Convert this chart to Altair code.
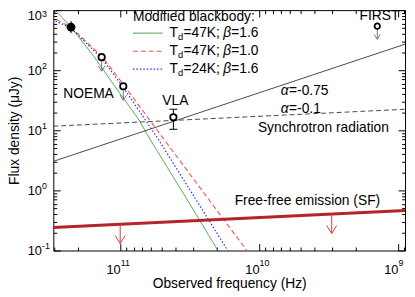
import altair as alt
import pandas as pd

# ---------------- values ----------------
# Modified blackbody models: observed frequency (Hz) and flux density (uJy)
green_nu = [3.24e11, 3.03e11, 2.26e11, 1.55e11, 1.12e11, 7.45e10, 6.03e10, 3.3e10, 1.92e10, 1.46e10]
green_f = [1259, 1080, 521, 171, 58.4, 15.8, 6.81, 0.708, 0.089, 0.0316]
red_nu = [3.24e11, 3.03e11, 2.26e11, 1.36e11, 9.5e10, 4.72e10, 1.18e10, 8.36e9]
red_f = [794, 736, 521, 171, 58.4, 6.55, 0.089, 0.0316]
blue_nu = [3.24e11, 3.03e11, 2.26e11, 1.36e11, 9.5e10, 5.2e10, 1.63e10, 1.24e10]
blue_f = [736, 681, 501, 158, 52.1, 6.55, 0.089, 0.0316]
models = ["T47b16", "T47b10", "T24b16"]
model_temp = ["=47K; ", "=47K; ", "=24K; "]
model_beta = ["=1.6", "=1.0", "=1.6"]

# power laws, given at the two ends of the frequency axis
pl_nu = [3.03e11, 8.9e8]
sync075_f = [3.04, 271]
sync010_f = [11.7, 22.4]
freefree_f = [0.242, 0.464]

# photometry
det_nu, det_f, det_lo, det_hi = [2.26e11], [521], [414], [656]
noema_nu, noema_f, noema_tip = [1.36e11, 9.5e10], [165, 54.1], [96.5, 31.6]
vla_nu, vla_f, vla_lo, vla_hi = [4.14e10], [16.5], [10.4], [22.4]
first_nu, first_f, first_tip = [1.41e9], [541], [328]
ffl_nu, ffl_f, ffl_tip = [1e11, 3e9], [0.27, 0.41], [0.131, 0.192]

# axes
x_major = [1e11, 1e10, 1e9]
x_minor = [9e8, 2e9, 3e9, 4e9, 5e9, 6e9, 7e9, 8e9, 9e9,
           2e10, 3e10, 4e10, 5e10, 6e10, 7e10, 8e10, 9e10, 2e11, 3e11]
y_major = [0.1, 1, 10, 100, 1000]
y_minor = [0.2, 0.3, 0.4, 0.5, 0.6, 0.7, 0.8, 0.9,
           2, 3, 4, 5, 6, 7, 8, 9,
           20, 30, 40, 50, 60, 70, 80, 90,
           200, 300, 400, 500, 600, 700, 800, 900]

# ---------------- chart ----------------
W, H = 357, 244
FONT = "Liberation Sans"
xsc = alt.Scale(type="log", domain=[8.9e8, 3.03e11], reverse=True)
ysc = alt.Scale(type="log", domain=[0.1, 1000])


def X(f="nu"):
    return alt.X(f"{f}:Q", scale=xsc, axis=None)


def Y(f="f"):
    return alt.Y(f"{f}:Q", scale=ysc, axis=None)


rows = []
for m, nus, fs in zip(models, [green_nu, red_nu, blue_nu], [green_f, red_f, blue_f]):
    for i, (n, v) in enumerate(zip(nus, fs)):
        rows.append({"model": m, "nu": n, "f": v, "i": i})
curves = pd.DataFrame(rows)

col_scale = alt.Scale(domain=models, range=["#3c9c3c", "#ff5050", "#2a2aff"])
dash_scale = alt.Scale(domain=models, range=[[1, 0], [5, 3], [1.5, 2]])
width_scale = alt.Scale(domain=models, range=[1, 1.2, 1.8])

curve_layer = alt.Chart(curves).mark_line(clip=True).encode(
    x=X(), y=Y(),
    color=alt.Color("model:N", scale=col_scale, legend=None),
    strokeDash=alt.StrokeDash("model:N", scale=dash_scale, legend=None),
    strokeWidth=alt.StrokeWidth("model:N", scale=width_scale, legend=None),
    order="i:O",
)

pl = pd.DataFrame({"nu": pl_nu, "s75": sync075_f, "s10": sync010_f, "ff": freefree_f})
sync75 = alt.Chart(pl).mark_line(clip=True, color="#333333", strokeWidth=0.9).encode(x=X(), y=Y("s75"))
sync10 = alt.Chart(pl).mark_line(clip=True, color="#333333", strokeWidth=0.9, strokeDash=[5, 3]).encode(x=X(), y=Y("s10"))
ffline = alt.Chart(pl).mark_line(clip=True, color="#b5242a", strokeWidth=3).encode(x=X(), y=Y("ff"))

ARROW = "M-1,-1.6L0,0L1,-1.6"

# free-free upper limits (red arrows)
ffl = pd.DataFrame({"nu": ffl_nu, "f": ffl_f, "tip": ffl_tip})
ffl_rule = alt.Chart(ffl).mark_rule(color="#d23a3a", strokeWidth=1).encode(x=X(), y=Y(), y2="tip:Q")
ffl_head = alt.Chart(ffl).mark_point(shape=ARROW, size=100, filled=False, color="#d23a3a",
                                     strokeWidth=1, opacity=1).encode(x=X(), y=Y("tip"))

# NOEMA upper limits
noe = pd.DataFrame({"nu": noema_nu, "f": noema_f, "tip": noema_tip})
noe_rule = alt.Chart(noe).mark_rule(color="#777777", strokeWidth=1).encode(x=X(), y=Y(), y2="tip:Q")
noe_head = alt.Chart(noe).mark_point(shape=ARROW, size=44, filled=False, color="#777777",
                                     strokeWidth=1, opacity=1).encode(x=X(), y=Y("tip"))
noe_pt = alt.Chart(noe).mark_point(shape="circle", size=42, filled=True, fill="white", stroke="black",
                                   strokeWidth=1.8, opacity=1).encode(x=X(), y=Y())

# FIRST upper limit
fst = pd.DataFrame({"nu": first_nu, "f": first_f, "tip": first_tip})
fst_rule = alt.Chart(fst).mark_rule(color="#777777", strokeWidth=1).encode(x=X(), y=Y(), y2="tip:Q")
fst_head = alt.Chart(fst).mark_point(shape=ARROW, size=36, filled=False, color="#777777",
                                     strokeWidth=1, opacity=1).encode(x=X(), y=Y("tip"))
fst_pt = alt.Chart(fst).mark_point(shape="circle", size=30, filled=True, fill="white", stroke="black",
                                   strokeWidth=1.8, opacity=1).encode(x=X(), y=Y())

# VLA detection
vla = pd.DataFrame({"nu": vla_nu, "f": vla_f, "lo": vla_lo, "hi": vla_hi})
vla_err = alt.Chart(vla).mark_rule(color="black", strokeWidth=1).encode(x=X(), y=Y("lo"), y2="hi:Q")
vla_cap_lo = alt.Chart(vla).mark_point(shape="M-1,0L1,0", size=64, filled=False, color="black",
                                       strokeWidth=1, opacity=1).encode(x=X(), y=Y("lo"))
vla_cap_hi = alt.Chart(vla).mark_point(shape="M-1,0L1,0", size=64, filled=False, color="black",
                                       strokeWidth=1, opacity=1).encode(x=X(), y=Y("hi"))
vla_pt = alt.Chart(vla).mark_point(shape="circle", size=42, filled=True, fill="white", stroke="black",
                                   strokeWidth=1.8, opacity=1).encode(x=X(), y=Y())

# filled detection
det = pd.DataFrame({"nu": det_nu, "f": det_f, "lo": det_lo, "hi": det_hi})
det_err = alt.Chart(det).mark_rule(color="black", strokeWidth=1).encode(x=X(), y=Y("lo"), y2="hi:Q")
det_pt = alt.Chart(det).mark_point(shape="circle", size=80, filled=True, color="black",
                                   opacity=1).encode(x=X(), y=Y())

# legend (drawn in data coordinates)
leg = pd.DataFrame({"model": models, "x0": [8.09e10] * 3, "x1": [4.95e10] * 3,
                    "xt": [4.42e10] * 3, "f": [414, 207, 104],
                    "temp": model_temp, "beta": model_beta})
leg_lines = alt.Chart(leg).mark_rule().encode(
    x=X("x0"), x2="x1:Q", y=Y(),
    color=alt.Color("model:N", scale=col_scale, legend=None),
    strokeDash=alt.StrokeDash("model:N", scale=dash_scale, legend=None),
    strokeWidth=alt.StrokeWidth("model:N", scale=width_scale, legend=None),
)
txt_kw = dict(font=FONT, fontSize=14, color="black", align="left", baseline="middle")
leg_T = alt.Chart(leg).mark_text(text="T", **txt_kw).encode(x=X("xt"), y=Y())
leg_d = alt.Chart(leg).mark_text(text="d", dx=8.6, dy=4, font=FONT, fontSize=9.5, color="black",
                                 align="left", baseline="middle").encode(x=X("xt"), y=Y())
leg_temp = alt.Chart(leg).mark_text(dx=14.2, **txt_kw).encode(x=X("xt"), y=Y(), text="temp:N")
leg_b = alt.Chart(leg).mark_text(text="\u03b2", dx=54.6, fontStyle="italic", **txt_kw).encode(x=X("xt"), y=Y())
leg_beta = alt.Chart(leg).mark_text(dx=62.8, **txt_kw).encode(x=X("xt"), y=Y(), text="beta:N")

ann = pd.DataFrame({
    "nu": [8.09e10, 1.69e11, 4.01e10, 1.36e9],
    "f": [768, 39.8, 30.4, 790],
    "txt": ["Modified blackbody:", "NOEMA", "VLA", "FIRST"],
})
ann_left = alt.Chart(ann.iloc[:1]).mark_text(**txt_kw).encode(x=X(), y=Y(), text="txt:N")
ann_center = alt.Chart(ann.iloc[1:]).mark_text(font=FONT, fontSize=14, color="black", align="center",
                                               baseline="middle").encode(x=X(), y=Y(), text="txt:N")
alpha = pd.DataFrame({"nu": [6.98e9, 6.98e9], "f": [44.7, 22.8], "txt": ["=-0.75", "=-0.1"]})
alpha_sym = alt.Chart(alpha).mark_text(text="\u03b1", fontStyle="italic", **txt_kw).encode(x=X(), y=Y())
alpha_val = alt.Chart(alpha).mark_text(dx=8.4, **txt_kw).encode(x=X(), y=Y(), text="txt:N")
ann2 = pd.DataFrame({
    "nu": [1.02e10, 1.50e10],
    "f": [10.8, 0.656],
    "txt": ["Synchrotron radiation", "Free-free emission (SF)"],
})
ann_right = alt.Chart(ann2).mark_text(**txt_kw).encode(x=X(), y=Y(), text="txt:N")

# ---------------- axes (inside ticks, IDL style) ----------------
dummy = pd.DataFrame({"nu": [1e10], "f": [1.0]})
tick_common = dict(labels=False, domain=False, grid=False, title=None, tickColor="black", tickWidth=1)
lab_common = dict(ticks=False, tickSize=0, domain=False, grid=False, labelFont=FONT, labelColor="black",
                  labelFlush=False, labelOverlap=False, labelBaseline="middle")

x_axes = [
    alt.Axis(orient="bottom", values=x_major, labelExpr="'10'", labelAlign="right", labelPadding=19,
             labelFontSize=13, title="Observed frequency (Hz)", titleFont=FONT, titleFontSize=14,
             titleFontWeight="normal", titleColor="black", titleBaseline="alphabetic", titleY=38, **lab_common),
    alt.Axis(orient="bottom", values=x_major,
             labelExpr="datum.value > 5e10 ? '11' : datum.value > 5e9 ? '10' : '9'",
             labelAlign="left", labelPadding=12, labelFontSize=9, title=None, **lab_common),
    alt.Axis(orient="top", offset=-H, values=x_major, tickSize=7, **tick_common),
    alt.Axis(orient="top", offset=-H, values=x_minor, tickSize=3.5, **tick_common),
    alt.Axis(orient="bottom", offset=-H, values=x_major, tickSize=7, **tick_common),
    alt.Axis(orient="bottom", offset=-H, values=x_minor, tickSize=3.5, **tick_common),
    None,
    None,
]
y_axes = [
    alt.Axis(orient="left", values=y_major[:-1], labelExpr="'10'", labelAlign="right", labelPadding=12,
             labelFontSize=13, title="Flux density (\u03bcJy)", titleFont=FONT, titleFontSize=14,
             titleFontWeight="normal", titleColor="black", titleBaseline="middle", titleX=-39, titleY=H / 2,
             **lab_common),
    alt.Axis(orient="left", values=y_major[:-1],
             labelExpr="datum.value < 0.5 ? '-1' : datum.value < 5 ? '0' : datum.value < 50 ? '1' : '2'",
             labelAlign="left", labelPadding=12, labelOffset=-5, labelFontSize=9, title=None, **lab_common),
    alt.Axis(orient="right", offset=-W, values=y_major, tickSize=7, **tick_common),
    alt.Axis(orient="right", offset=-W, values=y_minor, tickSize=3.5, **tick_common),
    alt.Axis(orient="left", offset=-W, values=y_major, tickSize=7, **tick_common),
    alt.Axis(orient="left", offset=-W, values=y_minor, tickSize=3.5, **tick_common),
    # the top label sits against the page edge: nudge it down a little
    alt.Axis(orient="left", values=y_major[-1:], labelExpr="'10'", labelAlign="right", labelPadding=12,
             labelOffset=6, labelFontSize=13, title=None, **lab_common),
    alt.Axis(orient="left", values=y_major[-1:], labelExpr="'3'", labelAlign="left", labelPadding=12,
             labelOffset=3, labelFontSize=9, title=None, **lab_common),
]
axis_layers = [
    alt.Chart(dummy).mark_point(opacity=0).encode(
        x=alt.X("nu:Q", scale=xsc, axis=xa), y=alt.Y("f:Q", scale=ysc, axis=ya))
    for xa, ya in zip(x_axes, y_axes)
]

chart = alt.layer(
    *axis_layers,
    curve_layer, sync75, sync10, ffline,
    ffl_rule, ffl_head, noe_rule, noe_head, fst_rule, fst_head,
    vla_err, vla_cap_lo, vla_cap_hi,
    noe_pt, fst_pt, vla_pt, det_err, det_pt,
    leg_lines, leg_T, leg_d, leg_temp, leg_b, leg_beta,
    ann_left, ann_center, alpha_sym, alpha_val, ann_right,
).resolve_axis(x="independent", y="independent").properties(
    width=W, height=H,
    autosize=alt.AutoSizeParams(type="none"),
    padding={"left": 46, "top": 0, "right": 2, "bottom": 42},
    background="white",
).configure_view(stroke="black", strokeWidth=1)

chart.save("out.html", embed_options={"renderer": "svg", "actions": False})
